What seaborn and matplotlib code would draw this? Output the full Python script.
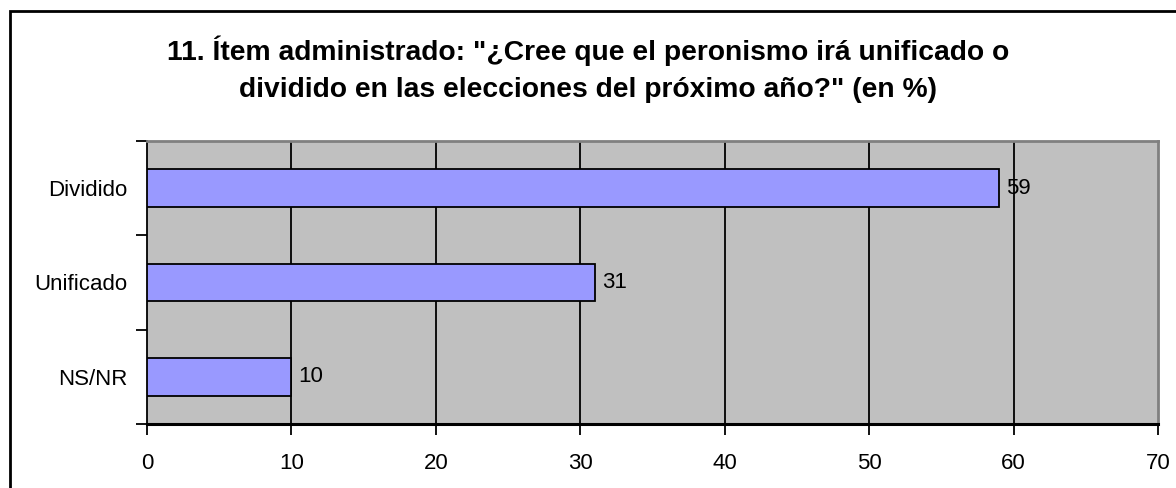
import matplotlib
matplotlib.use("Agg")
import matplotlib.pyplot as plt
import seaborn as sns
import pandas as pd
from matplotlib.patches import Rectangle

categories = ["Dividido", "Unificado", "NS/NR"]
values = [59, 31, 10]
x_ticks = [0, 10, 20, 30, 40, 50, 60, 70]
title = '11. Ítem administrado: "¿Cree que el peronismo irá unificado o\ndividido en las elecciones del próximo año?" (en %)'

sns.set_theme(style="white")
plt.rcParams['font.family'] = ['Liberation Sans', 'DejaVu Sans']

df = pd.DataFrame({"cat": categories, "val": values})

fig = plt.figure(figsize=(11.76, 4.88), dpi=100)
fig.patch.set_facecolor("white")
W, H = 1176, 488
ax = fig.add_axes([147 / W, 1 - 424 / H, (1158 - 147) / W, (424 - 141) / H])
ax.set_facecolor("#C0C0C0")

sns.barplot(data=df, x="val", y="cat", orient="h", color="#9999FF",
            saturation=1, edgecolor="black", linewidth=1.3, width=0.4, ax=ax, zorder=3)

ax.set_xlim(0, 70)
ax.set_ylim(2.5, -0.5)
ax.set_xticks(x_ticks)
ax.set_xticklabels([str(t) for t in x_ticks])
ax.set_xlabel("")
ax.set_ylabel("")

for xv in x_ticks[1:-1]:
    ax.axvline(xv, color="black", lw=1.3, zorder=1)

FS = 16
ax.set_yticks([0, 1, 2])
ax.set_yticklabels(categories)
ax.set_yticks([-0.5, 0.5, 1.5, 2.5], minor=True)
ax.tick_params(axis="y", which="major", length=0, pad=14, labelsize=FS, colors="black")
ax.tick_params(axis="y", which="minor", length=8, width=1.3, color="black", direction="out", left=True)
ax.tick_params(axis="x", which="major", length=8, width=1.3, color="black", direction="out",
               pad=13, labelsize=FS, labelcolor="black", bottom=True)

ax.spines["left"].set_color("black")
ax.spines["left"].set_linewidth(1.3)
ax.spines["bottom"].set_color("black")
ax.spines["bottom"].set_linewidth(2.2)
for s in ["top", "right"]:
    ax.spines[s].set_color("#808080")
    ax.spines[s].set_linewidth(2)

for c in ax.containers:
    ax.bar_label(c, labels=[str(v) for v in values], padding=5, fontsize=FS, color="black")

fig.text(0.5, 1 - 69 / H, title, ha="center", va="center",
         fontsize=20.3, fontweight="bold", linespacing=1.55, color="black")

fig.patches.append(Rectangle((10 / W, -0.1), 1.2, 1 - 11 / H + 0.1, transform=fig.transFigure,
                             fill=False, edgecolor="black", linewidth=2))

fig.savefig("out.png", dpi=100, facecolor="white")
